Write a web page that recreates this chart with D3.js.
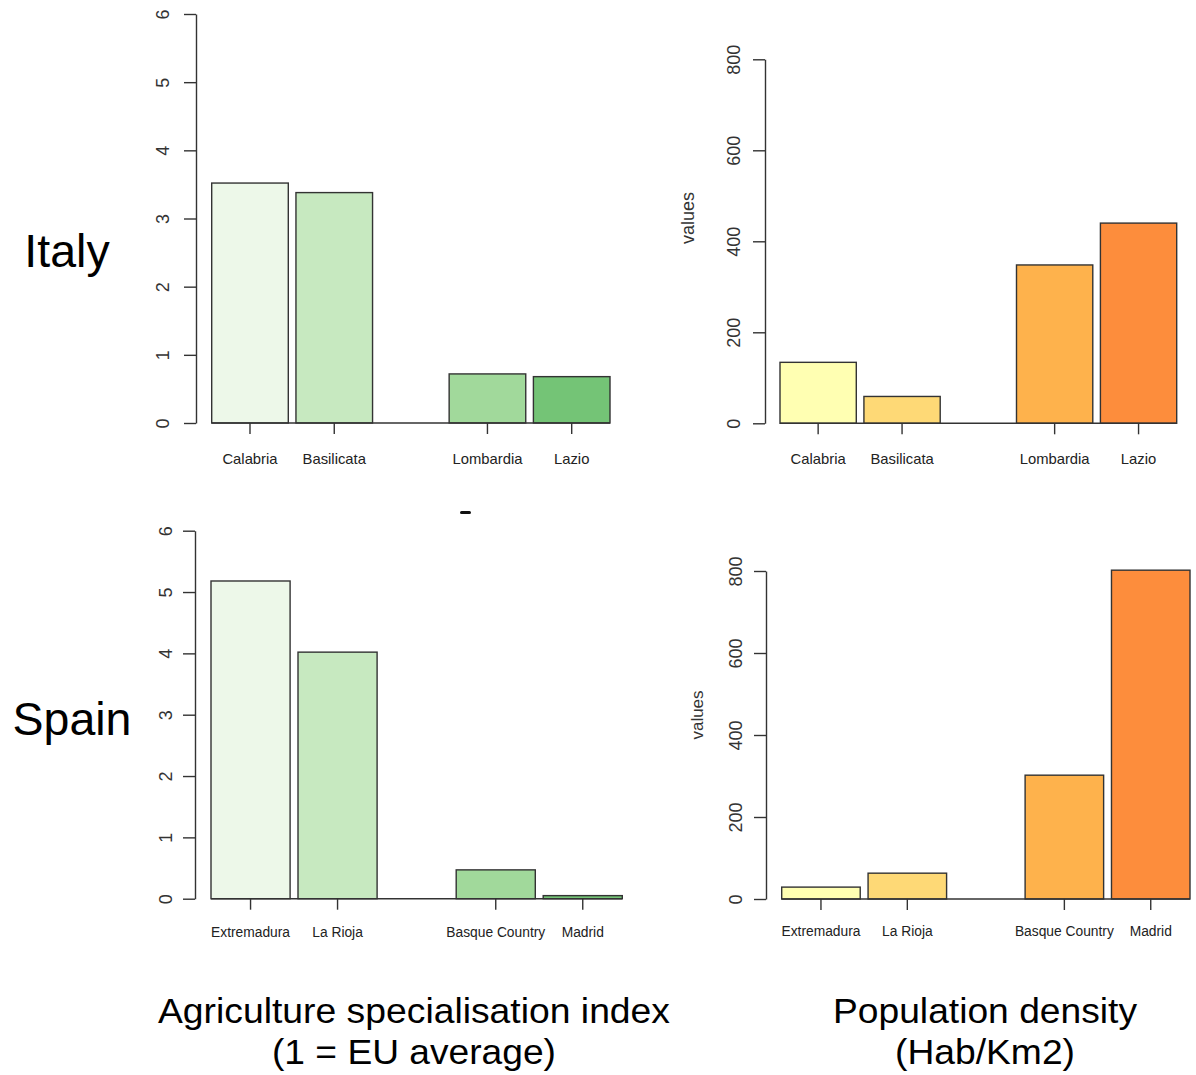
<!DOCTYPE html>
<html>
<head>
<meta charset="utf-8">
<script src="https://cdn.jsdelivr.net/npm/d3@7"></script>
<style>
  html, body { margin: 0; padding: 0; background: #fff; }
  svg { display: block; font-family: "Liberation Sans", Arial, sans-serif; }
</style>
</head>
<body>
<svg id="chart" width="1196" height="1075"></svg>
<script>
// ---------------- data ----------------
const italyRegions   = ["Calabria", "Basilicata", "Lombardia", "Lazio"];
const spainRegions   = ["Extremadura", "La Rioja", "Basque Country", "Madrid"];
const regionTier     = ["rural", "rural", "urban", "urban"];

const italyAgriIndex = [3.52, 3.38, 0.72, 0.68];
const spainAgriIndex = [5.18, 4.02, 0.47, 0.05];
const italyDensity   = [134, 59, 348, 440];
const spainDensity   = [29, 63, 302, 802];

const agriTicks      = [0, 1, 2, 3, 4, 5, 6];
const densityTicks   = [0, 200, 400, 600, 800];

const agriColors     = ["#edf8e9", "#c7e9c0", "#a1d99b", "#74c476"];
const densityColors  = ["#ffffb2", "#fed976", "#feb24c", "#fd8d3c"];

const rowLabels      = ["Italy", "Spain"];
const colTitles      = [["Agriculture specialisation index", "(1 = EU average)"],
                        ["Population density", "(Hab/Km2)"]];
const yAxisTitle     = "values";

// ---------------- drawing ----------------
const svg = d3.select("#chart");
svg.append("rect").attr("width", 1196).attr("height", 1075).attr("fill", "#fff");

const INK = "#333";

function drawPanel(cfg) {
  const g = svg.append("g");
  const y = d3.scaleLinear().domain([0, cfg.ticks[cfg.ticks.length - 1]])
              .range([cfg.y0, cfg.yTop]);
  const tiers = Array.from(new Set(regionTier));
  const outer = d3.scaleBand().domain(tiers).range([cfg.left, cfg.right])
                  .paddingInner(1 / 3.1).paddingOuter(0);
  const inner = d3.scaleBand().domain([0, 1]).range([0, outer.bandwidth()])
                  .paddingInner(1 / 11).paddingOuter(0);

  const rows = cfg.regions.map((name, i) => {
    const k = regionTier.slice(0, i).filter(t => t === regionTier[i]).length;
    const x = outer(regionTier[i]) + inner(k);
    return { name, value: cfg.values[i], color: cfg.colors[i], x, w: inner.bandwidth() };
  });

  // bars
  g.selectAll("rect.bar").data(rows).join("rect")
    .attr("class", "bar")
    .attr("x", d => d.x)
    .attr("y", d => y(d.value))
    .attr("width", d => d.w)
    .attr("height", d => y(0) - y(d.value))
    .attr("fill", d => d.color)
    .attr("stroke", INK)
    .attr("stroke-width", 1.4);

  // baseline
  g.append("line")
    .attr("x1", cfg.left).attr("x2", cfg.right)
    .attr("y1", y(0)).attr("y2", y(0))
    .attr("stroke", INK).attr("stroke-width", 1.4);

  // category ticks + labels
  g.selectAll("line.xt").data(rows).join("line")
    .attr("class", "xt")
    .attr("x1", d => d.x + d.w / 2).attr("x2", d => d.x + d.w / 2)
    .attr("y1", y(0)).attr("y2", y(0) + 11)
    .attr("stroke", INK).attr("stroke-width", 1.4);
  g.selectAll("text.xl").data(rows).join("text")
    .attr("class", "xl")
    .attr("x", d => d.x + d.w / 2)
    .attr("y", cfg.labelY)
    .attr("text-anchor", "middle")
    .attr("font-size", cfg.catFont)
    .attr("fill", "#222")
    .text(d => d.name);

  // y axis
  const ax = g.append("g")
    .attr("transform", `translate(${cfg.axisX},0)`)
    .call(d3.axisLeft(y).tickValues(cfg.ticks).tickSize(12).tickSizeOuter(0)
            .tickFormat(d3.format("d")));
  ax.select(".domain").attr("stroke", INK).attr("stroke-width", 1.4);
  ax.selectAll(".tick line").attr("stroke", INK).attr("stroke-width", 1.4);
  ax.selectAll(".tick text")
    .attr("x", null).attr("dy", null)
    .attr("text-anchor", "middle")
    .attr("transform", `translate(${-cfg.labelOff},0) rotate(-90)`)
    .attr("font-size", 18)
    .attr("font-family", '"Liberation Sans", Arial, sans-serif')
    .attr("fill", "#333");

  if (cfg.ylabel) {
    g.append("text")
      .attr("transform", `translate(${cfg.ylabelX},${cfg.ylabelY}) rotate(-90)`)
      .attr("text-anchor", "middle")
      .attr("font-size", cfg.ylabelFont)
      .attr("fill", "#333")
      .text(cfg.ylabel);
  }
}

drawPanel({ regions: italyRegions, values: italyAgriIndex, colors: agriColors, ticks: agriTicks,
            axisX: 196, yTop: 14, y0: 423, left: 211.7, right: 610,
            labelY: 464, catFont: 14.8, labelOff: 27 });
drawPanel({ regions: italyRegions, values: italyDensity, colors: densityColors, ticks: densityTicks,
            axisX: 765, yTop: 59.3, y0: 423.3, left: 780, right: 1176.7,
            labelY: 464, catFont: 14.8, labelOff: 25,
            ylabel: yAxisTitle, ylabelX: 694, ylabelY: 218, ylabelFont: 18 });
drawPanel({ regions: spainRegions, values: spainAgriIndex, colors: agriColors, ticks: agriTicks,
            axisX: 195, yTop: 530.7, y0: 898.7, left: 211, right: 622.3,
            labelY: 936.5, catFont: 13.8, labelOff: 23 });
drawPanel({ regions: spainRegions, values: spainDensity, colors: densityColors, ticks: densityTicks,
            axisX: 766, yTop: 571, y0: 899, left: 781.7, right: 1190,
            labelY: 936, catFont: 13.8, labelOff: 24,
            ylabel: yAxisTitle, ylabelX: 702.5, ylabelY: 715, ylabelFont: 17 });

// row labels
svg.selectAll("text.row").data(rowLabels).join("text")
  .attr("class", "row")
  .attr("x", (d, i) => [67, 72][i])
  .attr("y", (d, i) => [267, 735][i])
  .attr("text-anchor", "middle")
  .attr("font-size", 46.5)
  .attr("fill", "#000")
  .text(d => d);

// column titles
const titleCenters = [414, 985];
const titleWidths = [[512, 284], [304, 180]];
colTitles.forEach((lines, c) => {
  lines.forEach((t, j) => {
    svg.append("text")
      .attr("x", titleCenters[c])
      .attr("y", [1023, 1064][j])
      .attr("text-anchor", "middle")
      .attr("font-size", 34.5)
      .attr("textLength", titleWidths[c][j])
      .attr("lengthAdjust", "spacingAndGlyphs")
      .attr("fill", "#000")
      .text(t);
  });
});

// small cropped-glyph artefact between the two rows
svg.append("rect").attr("x", 460).attr("y", 511).attr("width", 11).attr("height", 3)
  .attr("rx", 1.5).attr("fill", "#111");
</script>
</body>
</html>
